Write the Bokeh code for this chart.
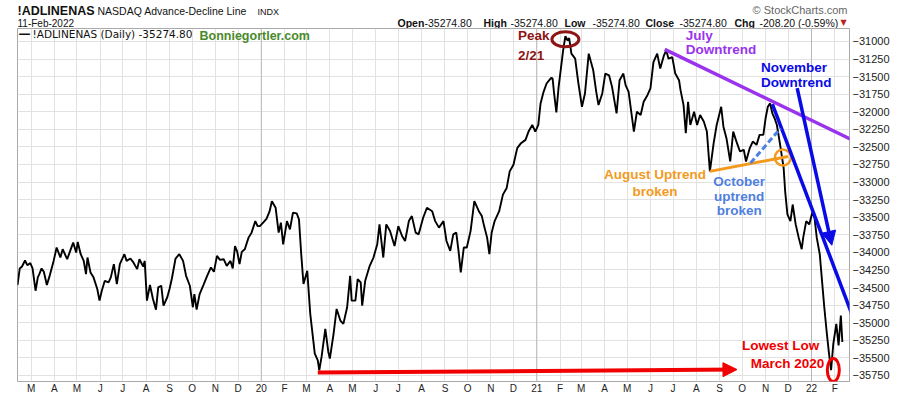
import pandas as pd
from bokeh.plotting import figure
from bokeh.layouts import column
from bokeh.models import Range1d, FixedTicker, CustomJSTickFormatter, Label, Arrow, NormalHead, Span
from bokeh.core.properties import value
from bokeh.embed import file_html
from bokeh.resources import INLINE

# ---------------- data ----------------
dates = [
 "2019-02-11","2019-02-14","2019-02-17","2019-02-21","2019-02-24","2019-02-28","2019-03-03","2019-03-07",
 "2019-03-10","2019-03-12","2019-03-15","2019-03-18","2019-03-22","2019-03-26","2019-03-31","2019-04-04",
 "2019-04-09","2019-04-12","2019-04-18","2019-04-22","2019-04-26","2019-04-30","2019-05-02","2019-05-06",
 "2019-05-10","2019-05-13","2019-05-15","2019-05-19","2019-05-23","2019-05-28","2019-05-31","2019-06-03",
 "2019-06-07","2019-06-12","2019-06-15","2019-06-19","2019-06-23","2019-06-27","2019-06-30","2019-07-03",
 "2019-07-06","2019-07-11","2019-07-15","2019-07-20","2019-07-23","2019-07-28","2019-07-30","2019-08-02",
 "2019-08-06","2019-08-10","2019-08-14","2019-08-17","2019-08-21","2019-08-24","2019-08-29","2019-09-01",
 "2019-09-04","2019-09-09","2019-09-14","2019-09-19","2019-09-23","2019-09-28","2019-10-02","2019-10-04",
 "2019-10-07","2019-10-11","2019-10-16","2019-10-21","2019-10-26","2019-10-30","2019-11-03","2019-11-07",
 "2019-11-12","2019-11-16","2019-11-21","2019-11-24","2019-11-27","2019-11-30","2019-12-03","2019-12-06",
 "2019-12-10","2019-12-15","2019-12-19","2019-12-24","2019-12-27","2019-12-30","2020-01-04","2020-01-08",
 "2020-01-12","2020-01-15","2020-01-20","2020-01-24","2020-01-27","2020-01-30","2020-02-04","2020-02-08",
 "2020-02-12","2020-02-17","2020-02-20","2020-02-23","2020-02-26","2020-03-02","2020-03-06","2020-03-10",
 "2020-03-12","2020-03-16","2020-03-18","2020-03-21","2020-03-26","2020-03-30","2020-04-01","2020-04-06",
 "2020-04-10","2020-04-15","2020-04-19","2020-04-24","2020-04-28","2020-04-30","2020-05-05","2020-05-08",
 "2020-05-12","2020-05-14","2020-05-18","2020-05-24","2020-05-29","2020-06-03","2020-06-06","2020-06-11",
 "2020-06-15","2020-06-20","2020-06-26","2020-07-01","2020-07-06","2020-07-10","2020-07-15","2020-07-19",
 "2020-07-24","2020-07-28","2020-08-03","2020-08-08","2020-08-15","2020-08-19","2020-08-24","2020-08-30",
 "2020-09-03","2020-09-08","2020-09-12","2020-09-16","2020-09-19","2020-09-22","2020-09-26","2020-09-30",
 "2020-10-05","2020-10-10","2020-10-16","2020-10-20","2020-10-23","2020-10-27","2020-10-30","2020-11-02",
 "2020-11-06","2020-11-12","2020-11-17","2020-11-22","2020-11-26","2020-12-01","2020-12-06","2020-12-11",
 "2020-12-17","2020-12-21","2020-12-26","2020-12-30","2021-01-03","2021-01-06","2021-01-10","2021-01-14",
 "2021-01-20","2021-01-22","2021-01-24","2021-01-27","2021-01-30","2021-02-02","2021-02-05","2021-02-08",
 "2021-02-11","2021-02-13","2021-02-16","2021-02-21","2021-02-25","2021-03-02","2021-03-06","2021-03-11",
 "2021-03-14","2021-03-17","2021-03-21","2021-03-24","2021-03-29","2021-04-02","2021-04-07","2021-04-11",
 "2021-04-17","2021-04-21","2021-04-26","2021-04-29","2021-05-03","2021-05-10","2021-05-14","2021-05-19",
 "2021-05-23","2021-05-28","2021-06-01","2021-06-05","2021-06-10","2021-06-14","2021-06-19","2021-06-22",
 "2021-06-25","2021-06-30","2021-07-04","2021-07-09","2021-07-11","2021-07-15","2021-07-18","2021-07-21",
 "2021-07-24","2021-07-29","2021-08-02","2021-08-06","2021-08-11","2021-08-15","2021-08-19","2021-08-24",
 "2021-08-28","2021-09-03","2021-09-06","2021-09-10","2021-09-15","2021-09-19","2021-09-24","2021-09-28",
 "2021-10-03","2021-10-06","2021-10-11","2021-10-15","2021-10-20","2021-10-24","2021-10-29","2021-11-01",
 "2021-11-04","2021-11-07","2021-11-10","2021-11-13","2021-11-16","2021-11-20","2021-11-23","2021-11-25",
 "2021-11-27","2021-11-30","2021-12-04","2021-12-07","2021-12-11","2021-12-15","2021-12-19","2021-12-21",
 "2021-12-25","2021-12-29","2022-01-02","2022-01-05","2022-01-08","2022-01-12","2022-01-15","2022-01-18",
 "2022-01-21","2022-01-24","2022-01-27","2022-01-30","2022-02-03","2022-02-06","2022-02-09","2022-02-11",
]
adl = [
 -34464,-34228,-34200,-34115,-34182,-34153,-34228,-34545,
 -34355,-34309,-34228,-34276,-34464,-34323,-34121,-33931,
 -34073,-33955,-34097,-33979,-33861,-34002,-33852,-34026,
 -34121,-34309,-34073,-34285,-34355,-34521,-34686,-34545,
 -34404,-34426,-34355,-34167,-34450,-34167,-34097,-34026,
 -34121,-34087,-34143,-34238,-34097,-34200,-34121,-34686,
 -34464,-34662,-34814,-34497,-34474,-34757,-34638,-34521,
 -34379,-34087,-34026,-34121,-34333,-34474,-34780,-34592,
 -34814,-34592,-34464,-34333,-34214,-34276,-34050,-34107,
 -34097,-34191,-34121,-34228,-33909,-33993,-34167,-33993,
 -33955,-33790,-33719,-33555,-33626,-33626,-33569,-33521,
 -33414,-33272,-33366,-33719,-33578,-33885,-33555,-33672,
 -33436,-33446,-33531,-34026,-34450,-34262,-34874,-35252,
 -35440,-35535,-35676,-35487,-35086,-35416,-35511,-35157,
 -34804,-34969,-35016,-34780,-34333,-34686,-34686,-34379,
 -34426,-34757,-34404,-34191,-34073,-33885,-33602,-34073,
 -33602,-33697,-33909,-33626,-33767,-33838,-33555,-33484,
 -33719,-33743,-33507,-33366,-33414,-33555,-33648,-33555,
 -33838,-33979,-33743,-33719,-33979,-34285,-33931,-33931,
 -33697,-33272,-33414,-33484,-33626,-33790,-34026,-33719,
 -33555,-33414,-33178,-33083,-32848,-32753,-32517,-32447,
 -32400,-32282,-32188,-32282,-32188,-31881,-31717,-31598,
 -31519,-31527,-31740,-32008,-31646,-31386,-31127,-30925,
 -30986,-30953,-31174,-31245,-31575,-31929,-31740,-31174,
 -31293,-31410,-31717,-31905,-31740,-31457,-31481,-31646,
 -32022,-31551,-31457,-31622,-31717,-32282,-32000,-32046,
 -31858,-31764,-31669,-31293,-31174,-31386,-31198,-31127,
 -31245,-31222,-31457,-31551,-31693,-31905,-32305,-31858,
 -32188,-32000,-32188,-32046,-32141,-32282,-32848,-32447,
 -32188,-31929,-32212,-32376,-32707,-32282,-32447,-32565,
 -32541,-32707,-32517,-32424,-32471,-32329,-32329,-32093,
 -31929,-31881,-32022,-32093,-32188,-32447,-32659,-32800,
 -33131,-33460,-33555,-33319,-33602,-33790,-33955,-33790,
 -33555,-33602,-33436,-33507,-33790,-34026,-34404,-34780,
 -35111,-35416,-35676,-35299,-35016,-35323,-34898,-35274.8,
]
y_ticks = [-35750, -35500, -35250, -35000, -34750, -34500, -34250, -34000, -33750, -33500,
           -33250, -33000, -32750, -32500, -32250, -32000, -31750, -31500, -31250, -31000]
year_starts = ["2020-01-01", "2021-01-01", "2022-01-01"]

# annotation anchors (date, value)
july_line = [("2021-06-20", -31113), ("2022-04-06", -32612)]
nov_line = [("2021-11-10", -31891), ("2022-03-13", -35369)]
nov_arrow = [("2021-12-13", -31665), ("2022-01-28", -33899)]
aug_line = [("2021-08-19", -32848), ("2021-12-01", -32636)]
oct_line = [("2021-10-12", -32729), ("2021-11-21", -32234)]
low_arrow = [("2020-03-16", -35709), ("2021-09-24", -35666)]
aug_circle = ("2021-11-24", -32650)
low_ellipse = ("2022-01-30", -35673)

W = 900
HEAD_H = 28
MAIN_H = 396 - HEAD_H
BL, BR, BB = 17, 51, 13
FRAME_H = MAIN_H - BB


def ms(s):
    return pd.Timestamp(s).value / 1e6


# ---------------- header strip ----------------
# (the column aligns this strip's frame with the chart's frame: pixels BL .. W-BR)
head = figure(width=W, height=HEAD_H, x_axis_type=None, y_axis_type=None, output_backend="svg",
              toolbar_location=None, title=None,
              min_border_left=BL, min_border_right=BR, min_border_top=0, min_border_bottom=0,
              x_range=Range1d(BL, W - BR), y_range=Range1d(HEAD_H, 0))
head.outline_line_color = None
head.grid.visible = False
head.border_fill_color = "white"
head.background_fill_color = "white"


def htext(items, size, bold=False, color="#111111", align="left", font="Liberation Sans"):
    xs = [a for a, _, _ in items]
    ys = [b for _, b, _ in items]
    ts = [c for _, _, c in items]
    head.text(x=xs, y=ys, text=ts, text_font=value(font), text_font_size=size,
              text_font_style="bold" if bold else "normal", text_color=color,
              text_align=align, text_baseline="middle")


htext([(17, 10, "!ADLINENAS")], "12.5px", True)
htext([(97, 10.5, "NASDAQ Advance-Decline Line")], "10.5px")
htext([(257, 11, "INDX")], "9px")
htext([(17, 23, "11-Feb-2022")], "10px")
htext([(847, 9, "\u00a9 StockCharts.com")], "11px", color="#666666", align="right")
htext([(397, 22.5, "Open"), (483, 22.5, "High"), (564, 22.5, "Low"), (645, 22.5, "Close"),
       (734, 22.5, "Chg")], "10.5px", True)
htext([(424, 22.5, "-35274.80"), (510, 22.5, "-35274.80"), (592, 22.5, "-35274.80"),
       (679, 22.5, "-35274.80"), (759, 22.5, "-208.20 (-0.59%)")], "10.5px")
htext([(840, 22, "\u25bc")], "8px", color="#C02020", font="DejaVu Sans")

# ---------------- main chart ----------------
x = pd.to_datetime(dates)

p = figure(width=W, height=MAIN_H, x_axis_type="datetime", y_axis_location="right",
           output_backend="svg", toolbar_location=None, title=None,
           x_range=Range1d(ms("2019-02-11"), ms("2022-02-20 12:00")),
           y_range=Range1d(-35836, -30816),
           min_border_left=BL, min_border_right=BR, min_border_top=0, min_border_bottom=BB)
p.background_fill_color = "white"
p.border_fill_color = "white"
p.outline_line_color = "#a9a9a9"

month_ticks = [ms(d) for d in pd.date_range("2019-03-01", "2022-02-01", freq="MS")]
p.xaxis.ticker = FixedTicker(ticks=month_ticks)
p.xgrid.ticker = FixedTicker(ticks=month_ticks)
p.xaxis.formatter = CustomJSTickFormatter(code="""
const d = new Date(tick); const m = d.getUTCMonth();
return m == 0 ? String(d.getUTCFullYear()).slice(2) : "JFMAMJJASOND"[m];
""")
p.yaxis.ticker = FixedTicker(ticks=y_ticks)
p.ygrid.ticker = FixedTicker(ticks=y_ticks)
for ax in (p.xaxis, p.yaxis):
    ax.major_tick_line_color = None
    ax.minor_tick_line_color = None
    ax.major_tick_out = 0
    ax.major_tick_in = 0
    ax.minor_tick_out = 0
    ax.minor_tick_in = 0
    ax.axis_line_color = None
    ax.major_label_text_font = "Liberation Sans"
    ax.major_label_text_color = "#222222"
p.xaxis.major_label_text_font_size = "10px"
p.xaxis.major_label_standoff = 1
p.yaxis.major_label_text_font_size = "11px"
p.yaxis.major_label_standoff = 3
p.xgrid.grid_line_color = "#e2e2e2"
p.ygrid.grid_line_color = "#e2e2e2"

for ys in year_starts:
    p.add_layout(Span(location=ms(ys), dimension="height", line_color="#b9b9b9", line_width=1, level="underlay"))

# main series
p.line(x, adl, line_color="black", line_width=1.9)


def seg(pts, color, width, dash="solid", head_=None):
    (d0, v0), (d1, v1) = pts
    p.add_layout(Arrow(end=head_, x_start=ms(d0), y_start=v0, x_end=ms(d1), y_end=v1,
                       line_color=color, line_width=width, line_dash=dash))


purple = "#9933EE"
blue = "#0A0AE6"
orange = "#F39A1E"
lblue = "#4F80DF"
red = "#F00000"
dred = "#8E1515"
green = "#4A8A2A"

seg(july_line, purple, 3.5)
seg(nov_line, blue, 3.5)
seg(nov_arrow, blue, 3.5, head_=NormalHead(size=14, fill_color=blue, line_color=blue))
seg(aug_line, orange, 3)
seg(oct_line, lblue, 3, dash="6 3")
seg(low_arrow, red, 4, head_=NormalHead(size=14, fill_color=red, line_color=red))

peak_i = adl.index(max(adl))
p.ellipse(x=[ms(dates[peak_i])], y=[adl[peak_i] - 45], width=27, height=15,
          width_units="screen", height_units="screen", fill_color=None, line_color=dred, line_width=3)
p.ellipse(x=[ms(low_ellipse[0])], y=[low_ellipse[1]], width=12, height=23,
          width_units="screen", height_units="screen", fill_color=None, line_color=red, line_width=3)
p.scatter(x=[ms(aug_circle[0])], y=[aug_circle[1]], size=16, marker="circle",
          fill_color=None, line_color=orange, line_width=2.5)


def txt(d, v, s, color, align="left"):
    p.text(x=[ms(d)], y=[v], text=[s], text_font=value("Liberation Sans"), text_font_style="bold",
           text_font_size="13.5px", text_color=color, text_align=align, text_baseline="middle")


txt("2020-12-07", -30915, "Peak", dred)
txt("2020-12-07", -31198, "2/21", dred)
txt("2021-07-18", -30915, "July", purple)
txt("2021-07-18", -31113, "Downtrend", purple)
txt("2021-10-26", -31368, "November", blue)
txt("2021-10-26", -31580, "Downtrend", blue)
txt("2021-06-07", -32895, "August Uptrend", orange, "center")
txt("2021-06-07", -33135, "broken", orange, "center")
txt("2021-09-27", -32994, "October", lblue, "center")
txt("2021-09-27", -33206, "uptrend", lblue, "center")
txt("2021-09-27", -33404, "broken", lblue, "center")
txt("2021-11-21", -35327, "Lowest Low", red, "center")
txt("2021-11-30", -35581, "March 2020", red, "center")


# legend row inside the frame (screen units relative to the frame)
def plab(ax, ay, s, size, bold=False, color="#111111", font="Liberation Sans"):
    p.add_layout(Label(x=ax - BL, y=(HEAD_H + FRAME_H) - ay, x_units="screen", y_units="screen", text=s,
                       text_font=font, text_font_size=size,
                       text_font_style="bold" if bold else "normal", text_color=color,
                       text_align="left", text_baseline="middle"))


plab(18, 35, "\u2014", "12px", True, font="DejaVu Sans")
plab(32, 35, "!ADLINENAS (Daily) -35274.80", "10.5px", font="DejaVu Sans")
plab(199, 37, "Bonniegortler.com", "12.5px", True, color=green)

layout = column(head, p, spacing=0)
open("out.html", "w").write(file_html(layout, INLINE))
